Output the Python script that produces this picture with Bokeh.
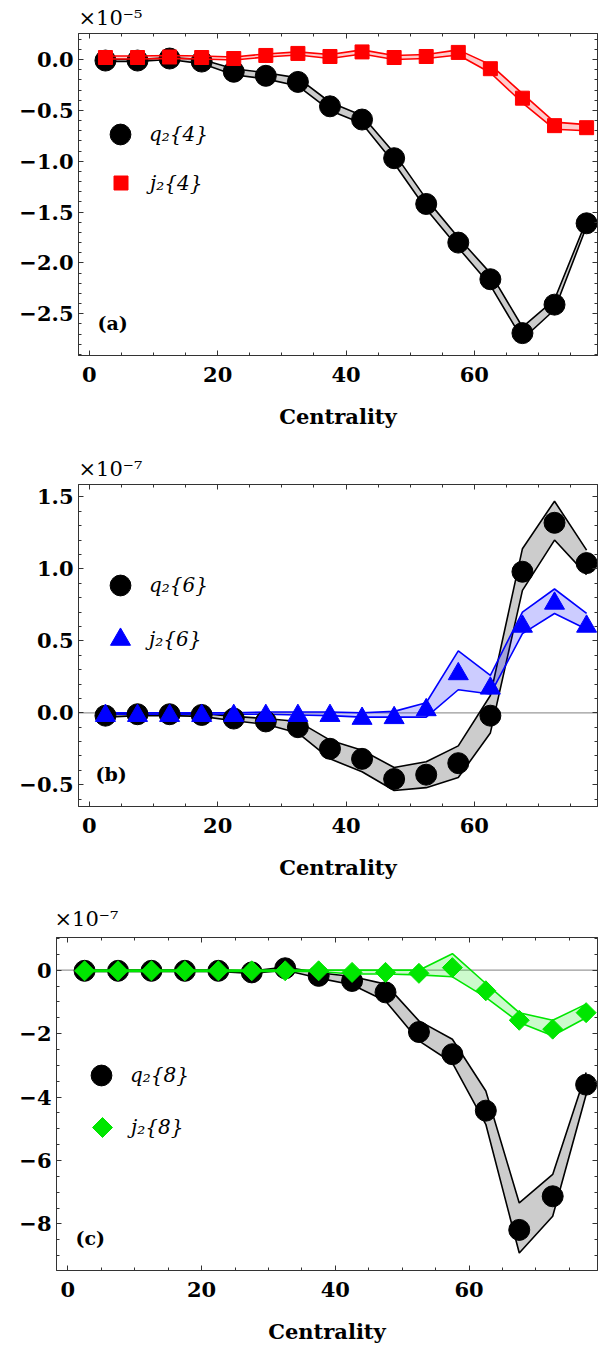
import math
from bokeh.plotting import figure
from bokeh.models import (Range1d, LinearAxis, SingleIntervalTicker, CustomJSTickFormatter,
                          Legend, LegendItem, Label, Span, Title, CustomLabelingPolicy)
from bokeh.embed import file_html
from bokeh.resources import INLINE

# ---------------- data ----------------
centrality = [2.5, 7.5, 12.5, 17.5, 22.5, 27.5, 32.5, 37.5,
              42.5, 47.5, 52.5, 57.5, 62.5, 67.5, 72.5, 77.5]

# panel (a), units of 1e-5
q4 = [-0.01, -0.01, 0.01, -0.02, -0.12, -0.16, -0.22, -0.46, -0.59, -0.97, -1.42, -1.80, -2.16, -2.69, -2.41, -1.61]
q4_hi = [0.0, 0.0, 0.02, 0.0, -0.09, -0.13, -0.18, -0.42, -0.55, -0.92, -1.37, -1.75, -2.10, -2.63, -2.36, -1.58]
q4_lo = [-0.02, -0.02, 0.0, -0.04, -0.15, -0.19, -0.26, -0.50, -0.63, -1.02, -1.47, -1.85, -2.22, -2.75, -2.46, -1.64]
j4 = [0.02, 0.02, 0.025, 0.02, 0.01, 0.04, 0.06, 0.03, 0.075, 0.02, 0.03, 0.07, -0.09, -0.38, -0.65, -0.67]
j4_hi = [0.035, 0.035, 0.04, 0.035, 0.025, 0.055, 0.075, 0.05, 0.095, 0.04, 0.05, 0.095, -0.05, -0.335, -0.615, -0.64]
j4_lo = [0.005, 0.005, 0.01, 0.005, -0.005, 0.025, 0.045, 0.01, 0.055, 0.0, 0.01, 0.045, -0.13, -0.425, -0.685, -0.70]

# panel (b), units of 1e-7
q6 = [-0.02, -0.01, -0.01, -0.015, -0.04, -0.06, -0.10, -0.25, -0.32, -0.46, -0.43, -0.35, -0.02, 0.98, 1.32, 1.04]
q6_hi = [-0.01, 0.0, 0.0, -0.005, -0.025, -0.04, -0.06, -0.19, -0.26, -0.38, -0.34, -0.23, 0.12, 1.14, 1.47, 1.13]
q6_lo = [-0.03, -0.02, -0.02, -0.025, -0.055, -0.08, -0.14, -0.32, -0.41, -0.54, -0.52, -0.45, -0.14, 0.85, 1.20, 0.96]
j6 = [-0.02, -0.02, -0.02, -0.02, -0.02, -0.02, -0.02, -0.02, -0.04, -0.035, 0.02, 0.27, 0.17, 0.60, 0.76, 0.60]
j6_hi = [0.0, 0.0, 0.0, 0.0, 0.0, 0.005, 0.005, 0.005, 0.0, 0.01, 0.07, 0.43, 0.26, 0.70, 0.86, 0.69]
j6_lo = [-0.01, -0.01, -0.01, -0.01, -0.01, -0.01, -0.015, -0.02, -0.03, -0.03, -0.03, 0.16, 0.13, 0.55, 0.69, 0.58]

# panel (c), units of 1e-7
q8 = [-0.02, -0.02, -0.02, -0.02, -0.02, -0.07, 0.06, -0.18, -0.34, -0.70, -1.95, -2.65, -4.43, -8.19, -7.13, -3.61]
q8_hi = [0.0, 0.0, 0.0, 0.0, 0.0, -0.03, 0.10, -0.08, -0.20, -0.44, -1.60, -2.18, -3.81, -7.34, -6.44, -3.23]
q8_lo = [-0.04, -0.04, -0.04, -0.04, -0.04, -0.10, 0.0, -0.25, -0.46, -0.97, -2.23, -2.92, -4.86, -8.92, -7.76, -3.92]
j8 = [-0.02, -0.02, -0.02, -0.02, -0.02, -0.02, -0.02, -0.02, -0.07, -0.07, -0.10, 0.08, -0.65, -1.58, -1.86, -1.34]
j8_hi = [0.0, 0.0, 0.0, 0.0, 0.0, 0.0, 0.0, 0.0, 0.0, 0.0, 0.0, 0.52, -0.42, -1.34, -1.58, -1.07]
j8_lo = [-0.04, -0.04, -0.04, -0.04, -0.04, -0.04, -0.04, -0.04, -0.12, -0.12, -0.15, -0.21, -0.86, -1.65, -2.07, -1.50]

x_ticks_interval = 20
x_label = "Centrality"

FONT = "DejaVu Serif"
FRAME = "#333333"
RED = "#ff0000"
BLUE = "#0000ff"
GREEN = "#00e600"

FMT1 = CustomJSTickFormatter(code="""
const v = Math.round(tick*10)/10;
return (v < 0 ? "\\u2212" : "") + Math.abs(v).toFixed(1);
""")
FMT0 = CustomJSTickFormatter(code="""
const v = Math.round(tick);
return (v < 0 ? "\\u2212" : "") + Math.abs(v).toFixed(0);
""")

NOLABEL_CODE = """
try { for (let i = 0; i < indices.size; i++) { indices.unset(i) } } catch (e) {}
return indices
"""


def style_axis(ax, labels=True):
    ax.major_tick_in = 5
    ax.major_tick_out = 0
    ax.minor_tick_in = 3
    ax.minor_tick_out = 0
    ax.axis_line_color = FRAME
    ax.major_tick_line_color = FRAME
    ax.minor_tick_line_color = FRAME
    ax.major_label_text_font = FONT
    ax.major_label_text_font_style = "bold"
    ax.major_label_text_color = "black"
    ax.major_label_text_font_size = "21px"
    if not labels:
        ax.major_label_policy = CustomLabelingPolicy(code=NOLABEL_CODE)
        ax.major_label_text_font_size = "1px"
        ax.major_label_standoff = 0


def make_panel(h, top, bottom, left, yr, yint, ynminor, fmt, exp_text, exp_standoff, exp_dx, tag, tag_dx):
    p = figure(width=612, height=h, x_range=Range1d(-1.7, 79.2), y_range=Range1d(*yr),
               output_backend="svg", toolbar_location=None,
               x_axis_location=None, y_axis_location=None,
               min_border_left=left, min_border_right=15,
               min_border_top=top, min_border_bottom=bottom)
    p.title = Title(text=exp_text, align="left", offset=exp_dx, standoff=exp_standoff,
                    text_font=FONT, text_font_style="normal", text_font_size="21px",
                    text_color="black")
    p.xgrid.visible = False
    p.ygrid.visible = False
    p.outline_line_color = FRAME
    p.background_fill_color = "white"
    p.border_fill_color = "white"

    xb = LinearAxis(ticker=SingleIntervalTicker(interval=x_ticks_interval, num_minor_ticks=4))
    style_axis(xb)
    xb.major_label_standoff = 11
    xb.axis_label = x_label
    xb.axis_label_text_font = FONT
    xb.axis_label_text_font_style = "bold"
    xb.axis_label_text_font_size = "21px"
    xb.axis_label_text_color = "black"
    xb.axis_label_standoff = 19
    p.add_layout(xb, "below")

    xt = LinearAxis(ticker=SingleIntervalTicker(interval=x_ticks_interval, num_minor_ticks=4))
    style_axis(xt, labels=False)
    p.add_layout(xt, "above")

    yl = LinearAxis(ticker=SingleIntervalTicker(interval=yint, num_minor_ticks=ynminor), formatter=fmt)
    style_axis(yl)
    yl.major_label_standoff = 5
    p.add_layout(yl, "left")

    yrr = LinearAxis(ticker=SingleIntervalTicker(interval=yint, num_minor_ticks=ynminor))
    style_axis(yrr, labels=False)
    p.add_layout(yrr, "right")

    # panel tag
    p.add_layout(Label(x=-1.7, y=yr[0], x_offset=tag_dx, y_offset=33, text=tag,
                       text_font=FONT, text_font_style="bold", text_font_size="19px",
                       text_baseline="middle", text_align="left", text_color="black"))
    return p


def band(p, lo, hi, color):
    p.varea(x=centrality, y1=lo, y2=hi, fill_color=color, fill_alpha=0.2)
    p.line(x=centrality, y=hi, line_color=color, line_width=1.6)
    p.line(x=centrality, y=lo, line_color=color, line_width=1.6)


def add_legend(p, renderer, label, glyph_w, vx, vy):
    lg = Legend(items=[LegendItem(label=label, renderers=[renderer])],
                location=(vx, vy), glyph_width=glyph_w, glyph_height=glyph_w,
                label_standoff=int(round(29.3 - glyph_w / 2)), padding=0, margin=0, spacing=0,
                border_line_color=None, background_fill_alpha=0,
                label_text_font=FONT, label_text_font_style="italic",
                label_text_font_size="20px", label_text_color="black")
    p.add_layout(lg, "center")


# ---------------- panel (a) ----------------
pa = make_panel(440, 33, 85, 78, (-2.91, 0.256), 0.5, 5, FMT1, "\u00d710\u207b\u2075", 0, 0, "(a)", 19)
band(pa, q4_lo, q4_hi, "black")
ra_q = pa.scatter(x=centrality, y=q4, marker="circle", size=21, fill_color="black", line_color="black")
band(pa, j4_lo, j4_hi, RED)
ra_j = pa.scatter(x=centrality, y=j4, marker="square", size=14, fill_color=RED, line_color=RED)
add_legend(pa, ra_q, "q\u2082{4}", 52, 16, 195)
add_legend(pa, ra_j, "j\u2082{4}", 35, 25, 155)

# ---------------- panel (b) ----------------
pb = make_panel(450, 44, 84, 78, (-0.651, 1.586), 0.5, 5, FMT1, "\u00d710\u207b\u2077", 0, 0, "(b)", 17)
pb.add_layout(Span(location=0, dimension="width", line_color="#9a9a9a", line_width=1.2, level="underlay"))
band(pb, q6_lo, q6_hi, "black")
band(pb, j6_lo, j6_hi, BLUE)
rb_q = pb.scatter(x=centrality, y=q6, marker="circle", size=21, fill_color="black", line_color="black")
rb_j = pb.scatter(x=centrality, y=j6, marker="triangle", size=20, fill_color=BLUE, line_color=BLUE)
add_legend(pb, rb_q, "q\u2082{6}", 52, 16, 195)
add_legend(pb, rb_j, "j\u2082{6}", 50, 17, 142)

# ---------------- panel (c) ----------------
pc = make_panel(456, 47, 76, 56, (-9.47, 1.03), 2, 4, FMT0, "\u00d710\u207b\u2077", 6, -2, "(c)", 19)
pc.add_layout(Span(location=0, dimension="width", line_color="#9a9a9a", line_width=1.2, level="underlay"))
band(pc, q8_lo, q8_hi, "black")
rc_q = pc.scatter(x=centrality, y=q8, marker="circle", size=21, fill_color="black", line_color="black")
band(pc, j8_lo, j8_hi, GREEN)
try:
    rc_j = pc.ngon(x=centrality, y=j8, radius=10, radius_units="screen", n=4,
                   fill_color=GREEN, line_color=GREEN)
except Exception:
    rc_j = pc.scatter(x=centrality, y=j8, marker="square", angle=math.pi / 4, size=14,
                      fill_color=GREEN, line_color=GREEN)
add_legend(pc, rc_q, "q\u2082{8}", 52, 19, 169)
add_legend(pc, rc_j, "j\u2082{8}", 50, 21, 118)

open("out.html", "w").write(file_html([pa, pb, pc], INLINE))
